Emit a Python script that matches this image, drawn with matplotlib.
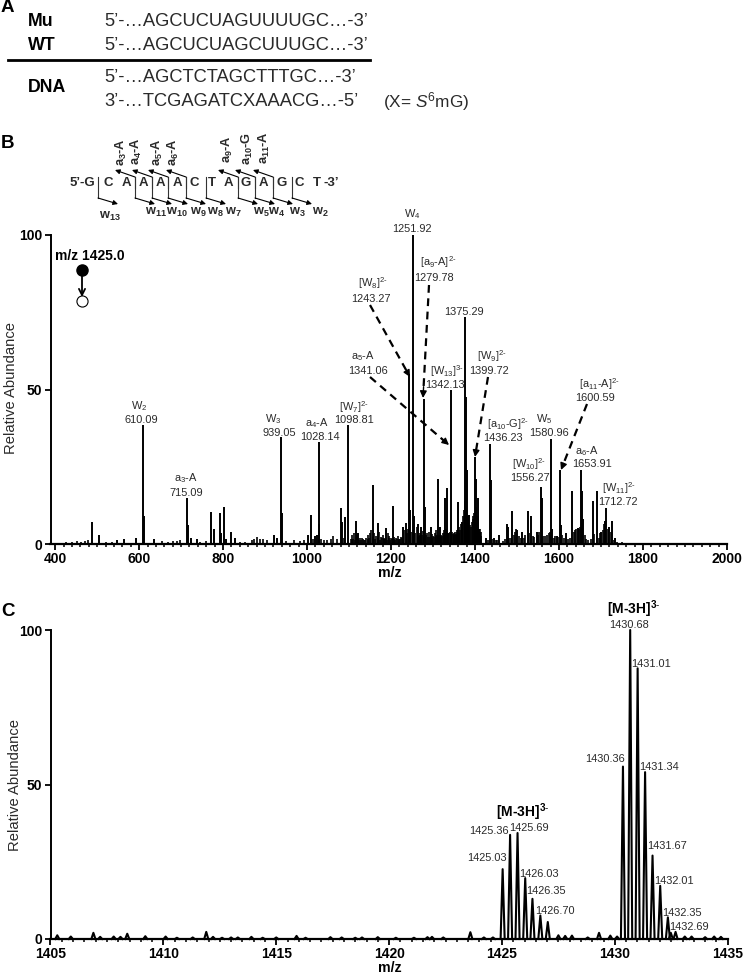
import matplotlib
matplotlib.use("Agg")
import matplotlib.pyplot as plt
import numpy as np

plt.rcParams["font.family"] = ["Liberation Sans", "DejaVu Sans"]
plt.rcParams["mathtext.fontset"] = "custom"
plt.rcParams["mathtext.rm"] = "Liberation Sans"
plt.rcParams["mathtext.it"] = "Liberation Sans:italic"
plt.rcParams["mathtext.bf"] = "Liberation Sans:bold"
plt.rcParams["mathtext.default"] = "regular"

# panel B main peaks
ms2_mz = [488, 505, 548, 563, 592, 609.5, 611, 636, 714.5, 716, 723, 737, 771, 778.5, 793, 795, 803, 806, 818, 829,
          921, 929, 938.5, 940, 1001.5, 1010, 1020, 1023, 1027.5, 1029, 1081, 1084, 1091, 1098.5, 1116, 1122, 1156, 1168,
          1188, 1204, 1229, 1235, 1243, 1246, 1251.5, 1255, 1265, 1271, 1279, 1282, 1295, 1311, 1317, 1329, 1333, 1342,
          1360, 1369, 1375, 1379, 1381, 1386, 1400, 1401.5, 1406, 1410, 1426, 1436, 1438, 1445, 1458, 1475, 1479, 1489,
          1501, 1513, 1526, 1533, 1547, 1556, 1559, 1581, 1584, 1594, 1602, 1605, 1617, 1632, 1644, 1653, 1655, 1658,
          1681, 1690, 1701, 1710, 1713, 1720, 1726, 1733]
ms2_int = [7, 3, 1.3, 1.5, 1.8, 38.5, 9, 1.5, 14.8, 6, 2, 1.5, 10.5, 4.8, 10, 3.5, 12, 1.5, 3.8, 2,
           3, 2, 34.5, 10, 3, 9.4, 2.7, 3, 33, 6.5, 11.5, 7, 8.7, 38.5, 7.4, 3.5, 19, 6.7,
           5.3, 12.4, 5.6, 6.7, 55, 11, 100, 9, 6.5, 5.6, 47, 12, 5.6, 21, 5.6, 15, 18, 50,
           13.7, 7, 73.5, 47.7, 24, 9.5, 28, 21, 15, 5, 2, 32.5, 20.7, 1.8, 3, 6.5, 5.6, 10.7,
           4.5, 4, 10.7, 9, 4, 18.5, 15, 34, 5, 2.5, 24, 6, 3.5, 17.3, 5.3, 24, 17, 8,
           14, 17.3, 4, 7.5, 11.8, 5.6, 7.4, 1.8]

# panel B low peaks
grass_mz = [425, 440, 452, 462, 470, 478, 520, 535, 655, 668, 680, 690, 698, 745, 760, 840, 852, 868, 874, 880, 888, 896,
            905, 950, 968, 982, 992, 1015, 1032, 1040, 1048, 1056, 1062, 1072, 1088, 1104, 1108, 1112, 1119, 1126, 1131,
            1136, 1141, 1146, 1150, 1153, 1160, 1164, 1172, 1176, 1180, 1184, 1192, 1196, 1200, 1208, 1212, 1216, 1220,
            1224, 1232, 1238, 1240, 1248, 1258, 1261, 1268, 1274, 1276, 1285, 1288, 1291, 1298, 1301, 1304, 1307, 1314,
            1320, 1323, 1326, 1331, 1336, 1338, 1340, 1345, 1347, 1350, 1352, 1354, 1356, 1358, 1362, 1364, 1366, 1371,
            1373, 1377, 1383, 1384, 1388, 1390, 1392, 1394, 1396, 1398, 1403, 1408, 1412, 1415, 1430, 1441, 1449, 1452,
            1466, 1471, 1482, 1485, 1492, 1495, 1498, 1505, 1509, 1517, 1520, 1529, 1537, 1541, 1551, 1553, 1563, 1567,
            1571, 1575, 1578, 1588, 1591, 1597, 1608, 1612, 1622, 1627, 1636, 1639, 1641, 1647, 1650, 1661, 1665, 1669,
            1677, 1684, 1694, 1697, 1704, 1707, 1716, 1723, 1730, 1738, 1750,
            1106, 1110, 1114, 1124, 1128, 1134, 1138, 1144, 1148, 1158, 1162, 1170, 1174, 1178, 1182, 1186, 1190, 1194,
            1198, 1202, 1206, 1210, 1214, 1218, 1222, 1226, 1253, 1263, 1267, 1270, 1278, 1283, 1293, 1297, 1303, 1306,
            1309, 1312, 1316, 1319, 1322, 1325, 1328, 1335, 1343, 1349, 1355, 1361, 1368, 1399, 1405, 1407, 1411, 1413]
grass_int = [0.8, 0.7, 1, 0.6, 1, 1.4, 0.7, 0.8, 1, 0.8, 1, 1, 1.4, 0.7, 0.9, 0.7, 0.8, 1.2, 1.5, 2.4, 1.6, 1.5,
             1.4, 1, 1.2, 1, 1.2, 1.7, 1.6, 1.4, 1.2, 1.6, 2.5, 1.5, 2, 1.5, 3, 3.4, 3, 2, 1.8,
             1.4, 1.8, 2.8, 3.5, 4.5, 3.6, 2.5, 3.8, 2.2, 3, 2, 3.4, 2.6, 1.8, 2.4, 1.8, 2.5, 1.6,
             2.2, 4.5, 3.5, 5, 4, 3.5, 5.5, 3.6, 3, 4.2, 3.6, 2.4, 4, 3.2, 2.5, 3.6, 4.4, 2.8,
             3, 3.6, 4.6, 5, 3.4, 3.6, 4, 3.8, 3.2, 3.4, 3.8, 3, 4.4, 4, 5.5, 4.6, 6.5, 9,
             11, 14, 8, 9, 6, 5.5, 7, 8, 9, 10, 12, 9, 4, 2.5, 1.2, 1.5, 1.2, 1.4,
             0.9, 1.6, 2, 1.8, 3, 4, 5, 2.5, 2, 1.8, 3, 3.5, 2.6, 2.4, 2.8, 3.8, 2.5, 2.5,
             3, 3.4, 4, 2, 2.6, 2.2, 3, 1.8, 1.5, 2, 3.8, 4.5, 4.8, 5, 5.6, 3, 1.6, 1.4,
             1.6, 3.2, 2, 3.5, 4.5, 6.5, 5, 4, 1.2, 0.8, 0.7,
             1.2, 1.5, 1.4, 1.2, 1.4, 1.6, 1.2, 1.5, 2, 2.4, 1.5, 2, 1.4, 1.8, 1.5, 1.6, 1.4, 1.8,
             1.4, 1.5, 1.6, 1.4, 1.5, 1.2, 1.6, 2, 3.5, 2.4, 2.6, 3, 2.2, 3, 2.4, 2, 2.2, 2.5,
             2.8, 2.4, 2, 2.4, 2.6, 2.8, 3, 3.2, 3.4, 3, 3.2, 3.6, 5, 8, 9, 8.5, 5, 4]

# panel C peaks
ms1_mz = [1405.3, 1405.9, 1406.9, 1407.2, 1407.8, 1408.1, 1408.4, 1409.2, 1410.1, 1410.6, 1411.3, 1411.9, 1412.2, 1412.6,
          1413.0, 1413.3, 1413.9, 1414.4, 1415.0, 1415.9, 1416.3, 1417.4, 1417.9, 1418.5, 1418.8, 1419.5, 1420.3, 1421.1,
          1421.7, 1421.9, 1422.4, 1423.6, 1424.2, 1424.6,
          1425.03, 1425.36, 1425.69, 1426.03, 1426.35, 1426.70, 1427.03, 1427.5, 1427.8, 1428.1, 1428.8, 1429.3, 1429.8, 1430.1,
          1430.36, 1430.68, 1431.01, 1431.34, 1431.67, 1432.01, 1432.35, 1432.48, 1432.69, 1433.1, 1433.4, 1434.0, 1434.4, 1434.7]
ms1_int = [1.2, 0.8, 2, 0.7, 0.8, 0.7, 1.7, 0.9, 0.8, 0.4, 0.5, 2.3, 0.7, 0.4,
           0.5, 0.5, 0.7, 0.4, 0.5, 1, 0.4, 0.6, 0.5, 0.4, 0.5, 0.6, 0.4, 0.4,
           0.6, 0.7, 0.5, 2.2, 0.5, 0.5,
           22.6, 33.7, 34.3, 19.7, 13, 7.6, 5.5, 1.2, 1, 1.1, 0.5, 2, 1.1, 0.8,
           55.8, 100, 87.6, 54, 27, 17.2, 7, 2, 2.3, 0.8, 0.8, 0.6, 0.8, 0.7]

xticks_b = [400, 600, 800, 1000, 1200, 1400, 1600, 1800, 2000]
xticks_c = [1405, 1410, 1415, 1420, 1425, 1430, 1435]
yticks = [0, 50, 100]

# text labels of the peaks, pixel positions of the original figure
labels_b = [("W$_2$", 139, 406), ("610.09", 141, 420), ("a$_3$-A", 186, 478), ("715.09", 186, 493),
            ("W$_3$", 273, 419), ("939.05", 279, 433), ("a$_4$-A", 317, 423), ("1028.14", 320, 437),
            ("[W$_7$]$^{2\\text{-}}$", 354, 407), ("1098.81", 354, 420), ("W$_4$", 412, 214), ("1251.92", 412, 229.5),
            ("[a$_9$-A]$^{2\\text{-}}$", 438, 262), ("1279.78", 434, 278), ("[W$_8$]$^{2\\text{-}}$", 373, 283),
            ("1243.27", 371, 299), ("1375.29", 464, 312), ("a$_5$-A", 363, 356), ("1341.06", 368, 371),
            ("[W$_{13}$]$^{3\\text{-}}$", 447, 371), ("1342.13", 445, 385), ("[W$_9$]$^{2\\text{-}}$", 492, 356),
            ("1399.72", 489, 371), ("[a$_{11}$-A]$^{2\\text{-}}$", 599, 384), ("1600.59", 595, 398),
            ("[a$_{10}$-G]$^{2\\text{-}}$", 508, 424), ("1436.23", 503, 438), ("W$_5$", 544, 419), ("1580.96", 549, 433),
            ("a$_6$-A", 587, 451), ("1653.91", 592, 464), ("[W$_{10}$]$^{2\\text{-}}$", 529, 464), ("1556.27", 530, 478),
            ("[W$_{11}$]$^{2\\text{-}}$", 619, 488), ("1712.72", 618, 502)]
labels_c = [("1430.68", 629, 625), ("1431.01", 651, 664), ("1430.36", 605, 759), ("1431.34", 659, 767),
            ("1431.67", 667, 846), ("1432.01", 674, 881), ("1432.35", 682, 913), ("1432.69", 689, 927),
            ("1425.36", 489, 831), ("1425.69", 529, 828), ("1425.03", 487, 858), ("1426.03", 539, 874),
            ("1426.35", 546, 891), ("1426.70", 555, 911)]
dash_arrows = [(370, 305, 410, 377), (429, 285, 423, 398), (370, 377, 449, 445), (488, 377, 475, 457), (587, 404, 561, 470)]

seq_letters = ["C", "A", "A", "A", "A", "C", "T", "A", "G", "A", "G", "C", "T"]
seq_x = [108, 126, 143, 160, 177, 194, 212, 228, 246, 263, 282, 299, 317]
w_bars = [98, 135, 152, 168, 186, 206, 238, 255, 273, 292]
a_bars = [135, 152, 168, 186, 238, 255, 273]
a_names = ["a$_3$-A", "a$_4$-A", "a$_5$-A", "a$_6$-A", "a$_9$-A", "a$_{10}$-G", "a$_{11}$-A"]
a_x = [121, 136, 157, 173, 227, 247, 264]
a_y = [152, 151, 152, 152, 149, 149, 148]
w_names = ["13", "11", "10", "9", "8", "7", "5", "4", "3", "2"]
w_x = [110, 156, 177, 198, 215, 233, 261, 277, 297, 320]
w_y = [216, 212, 212, 212, 212, 212, 212, 212, 212, 212]

W, H = 745, 974
fig = plt.figure(figsize=(W / 100, H / 100), dpi=100)


def make_axes(x0, x1, ytop, ybot):
    ax = fig.add_axes([x0 / W, 1 - ybot / H, (x1 - x0) / W, (ybot - ytop) / H])
    ax.spines["top"].set_visible(False)
    ax.spines["right"].set_visible(False)
    ax.spines["left"].set_linewidth(1.4)
    ax.spines["bottom"].set_linewidth(1.6)
    ax.set_ylim(0, 100)
    ax.set_yticks(yticks)
    ax.tick_params(axis="both", which="major", length=4, width=1.3, pad=2, labelsize=10)
    ax.tick_params(axis="x", which="minor", length=2.5, width=1.1)
    return ax


# B
axb = make_axes(50.5, 727, 235, 544)
axb.set_xlim(389, 2000)
axb.vlines(grass_mz, 0, grass_int, color="black", lw=1.2, clip_on=False)
axb.vlines(ms2_mz, 0, ms2_int, color="black", lw=1.4, clip_on=False)
axb.set_xticks(xticks_b)
axb.set_xticks(np.arange(400, 2001, 20), minor=True)
for t in axb.get_xticklabels() + axb.get_yticklabels():
    t.set_fontweight("bold")

# C
axc = make_axes(50.5, 727.7, 630, 939)
axc.set_xlim(1405, 1435)
for m, v in zip(ms1_mz, ms1_int):
    axc.plot([m - 0.09, m, m + 0.09], [0, v, 0], color="black", lw=1.5, clip_on=False)
axc.set_xticks(xticks_c)
axc.set_xticks(np.arange(1405, 1435.1, 0.5), minor=True)
for t in axc.get_xticklabels() + axc.get_yticklabels():
    t.set_fontweight("bold")

# everything else sits on a full figure layer in pixels
ov = fig.add_axes([0, 0, 1, 1], facecolor="none")
ov.set_xlim(0, W)
ov.set_ylim(H, 0)
ov.axis("off")


def txt(x, y, s, size=7.9, weight="normal", ha="center", color="#2a2a2a", rot=0):
    ov.text(x, y, s, fontsize=size, fontweight=weight, ha=ha, va="center", color=color, rotation=rot)


# panel letters
for s, y in [("A", 7), ("B", 143), ("C", 611)]:
    txt(1, y, s, size=13.5, weight="bold", ha="left", color="black")

# A
txt(28, 21, "Mu", size=12.8, weight="bold", ha="left", color="black")
txt(28, 45, "WT", size=12.8, weight="bold", ha="left", color="black")
txt(28, 88, "DNA", size=12.8, weight="bold", ha="left", color="black")
txt(104, 21, "5’-…AGCUCUAGUUUUGC…-3’", size=13.2, ha="left")
txt(104, 45, "5’-…AGCUCUAGCUUUGC…-3’", size=13.2, ha="left")
txt(104, 77, "5’-…AGCTCTAGCTTTGC…-3’", size=13.2, ha="left")
txt(104, 102, "3’-…TCGAGATCXAAACG…-5’", size=13.2, ha="left")
txt(383, 102, "(X= $\\mathit{S}^{6}$mG)", size=12.4, ha="left")
ov.plot([8, 370], [59.5, 59.5], color="black", lw=2)

# B sequence scheme
txt(70, 183, "5’-G", size=9.5, weight="bold", ha="left")
for s, x in zip(seq_letters, seq_x):
    txt(x, 183, s, size=9.5, weight="bold")
txt(323, 183, "-3’", size=9.5, weight="bold", ha="left")
for x in w_bars:
    ov.plot([x, x], [177, 198], color="#333333", lw=0.8)
    ov.annotate("", xy=(x + 20, 204), xytext=(x, 198),
                arrowprops=dict(arrowstyle="-|>", color="black", lw=0.8, mutation_scale=7, shrinkA=0, shrinkB=0))
for x in a_bars:
    ov.plot([x, x], [177, 188], color="#333333", lw=0.8)
    ov.annotate("", xy=(x - 20, 170), xytext=(x, 177),
                arrowprops=dict(arrowstyle="-|>", color="black", lw=0.8, mutation_scale=7, shrinkA=0, shrinkB=0))
for s, x, y in zip(a_names, a_x, a_y):
    txt(x, y, s, size=9.2, weight="bold", rot=90)
for s, x, y in zip(w_names, w_x, w_y):
    txt(x, y, "$\\mathbf{w_{" + s + "}}$", size=9.2, weight="bold")

# precursor symbol
txt(90, 256, "m/z 1425.0", size=10, weight="bold", color="black")
ov.annotate("", xy=(82, 297), xytext=(82, 270),
            arrowprops=dict(arrowstyle="->", color="black", lw=1.3, mutation_scale=11, shrinkA=0, shrinkB=0))
ov.plot([82], [270], "o", color="black", ms=8)
ov.plot([82], [300.5], "o", mfc="white", mec="black", mew=0.8, ms=8)

for s, x, y in labels_b + labels_c:
    txt(x, y, s)
txt(634, 609, "[M-3H]$^{\\mathbf{3\\text{-}}}$", size=10, weight="bold", color="black")
txt(523, 812, "[M-3H]$^{\\mathbf{3\\text{-}}}$", size=10, weight="bold", color="black")

for x0, y0, x1, y1 in dash_arrows:
    ov.plot([x0, x0 + 0.93 * (x1 - x0)], [y0, y0 + 0.93 * (y1 - y0)], color="black", lw=1.6, ls=(0, (3.5, 2.5)))
    ov.annotate("", xy=(x1, y1), xytext=(x0 + 0.9 * (x1 - x0), y0 + 0.9 * (y1 - y0)),
                arrowprops=dict(arrowstyle="-|>", color="black", lw=1, mutation_scale=10, shrinkA=0, shrinkB=0))

# axis titles
txt(11, 388, "Relative Abundance", size=10.6, rot=90)
txt(15, 785, "Relative Abundance", size=10.6, rot=90)
txt(390, 573, "m/z", size=10.2, weight="bold", color="black")
txt(390, 968, "m/z", size=10.2, weight="bold", color="black")

fig.savefig("out.png", dpi=100)
